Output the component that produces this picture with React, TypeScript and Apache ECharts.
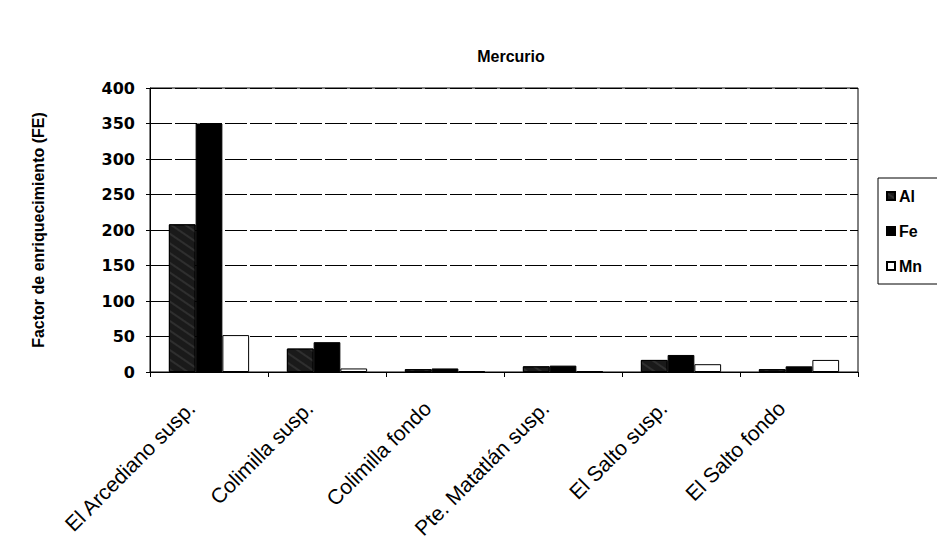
import React, { useEffect, useRef } from "react";
import * as echarts from "echarts";

const categories = [
  "El Arcediano susp.",
  "Colimilla susp.",
  "Colimilla fondo",
  "Pte. Matatlán susp.",
  "El Salto susp.",
  "El Salto fondo",
];
const alValues = [208, 33, 4, 8, 17, 4];
const feValues = [350, 42, 5, 9, 24, 8];
const mnValues = [52, 5, 1, 1, 11, 17];
const yTicks = [0, 50, 100, 150, 200, 250, 300, 350, 400];

export default function App() {
  const ref = useRef<HTMLDivElement>(null);
  useEffect(() => {
    if (!ref.current) return;
    const chart = echarts.init(ref.current, undefined, { renderer: "svg" });
    const font = "Arial, 'Liberation Sans', sans-serif";
    const wide = "'DejaVu Sans', Arial, sans-serif";
    const border = { borderColor: "#000", borderWidth: 1 };
    chart.setOption({
      animation: false,
      backgroundColor: "#fff",
      title: {
        text: "Mercurio",
        left: 506,
        top: 43,
        textAlign: "center",
        textStyle: { fontFamily: font, fontSize: 16, fontWeight: "bold", color: "#000" },
      },
      legend: {
        orient: "vertical",
        left: 878,
        top: 178,
        itemGap: 19,
        itemWidth: 8,
        itemHeight: 8,
        padding: [10, 40, 10, 8],
        borderColor: "#000",
        borderWidth: 1,
        icon: "rect",
        textStyle: { fontFamily: font, fontSize: 16, fontWeight: "bold", color: "#000", padding: [0, 0, 0, -1] },
        data: ["Al", "Fe", "Mn"],
      },
      grid: {
        left: 150,
        right: 79,
        top: 88,
        bottom: 168,
        outerBoundsMode: "none",
        containLabel: false,
        show: true,
        borderColor: "#000",
        borderWidth: 1,
        backgroundColor: "transparent",
      },
      xAxis: {
        type: "category",
        data: categories,
        axisLine: { lineStyle: { color: "#000", width: 1 } },
        axisTick: { show: true, alignWithLabel: false, length: 5, lineStyle: { color: "#000" } },
        axisLabel: {
          rotate: 45,
          margin: 15,
          padding: [0, 25, 0, 0],
          fontFamily: font,
          fontSize: 21,
          color: "#000",
        },
      },
      yAxis: {
        type: "value",
        min: 0,
        max: 400,
        interval: 50,
        name: "Factor de enriquecimiento (FE)",
        nameLocation: "middle",
        nameGap: 104,
        nameTextStyle: { fontFamily: font, fontSize: 16, fontWeight: "bold", color: "#000" },
        axisLine: { show: true, lineStyle: { color: "#000" } },
        axisTick: { show: true, length: 4, lineStyle: { color: "#000" } },
        axisLabel: {
          fontFamily: wide,
          fontSize: 16,
          fontWeight: "bold",
          color: "#000",
          margin: 15,
          formatter: (v: number) => (yTicks.includes(v) ? String(v) : ""),
        },
        splitLine: { show: true, lineStyle: { color: "#000", width: 1.2, type: [22, 3] } },
      },
      series: [
        {
          name: "Al",
          type: "bar",
          data: alValues,
          barGap: "0%",
          barCategoryGap: "32%",
          itemStyle: {
            color: "#1a1a1a",
            ...border,
            decal: {
              symbol: "rect",
              color: "rgba(255,255,255,0.45)",
              symbolSize: 0.4,
              dashArrayX: [1, 0],
              dashArrayY: [2, 6],
              rotation: 0.6,
            },
          },
        },
        { name: "Fe", type: "bar", data: feValues, itemStyle: { color: "#000", ...border } },
        { name: "Mn", type: "bar", data: mnValues, itemStyle: { color: "#fff", ...border } },
      ],
    });
    return () => chart.dispose();
  }, []);
  return <div ref={ref} style={{ width: 937, height: 540, position: "absolute", left: 0, top: 0 }} />;
}
